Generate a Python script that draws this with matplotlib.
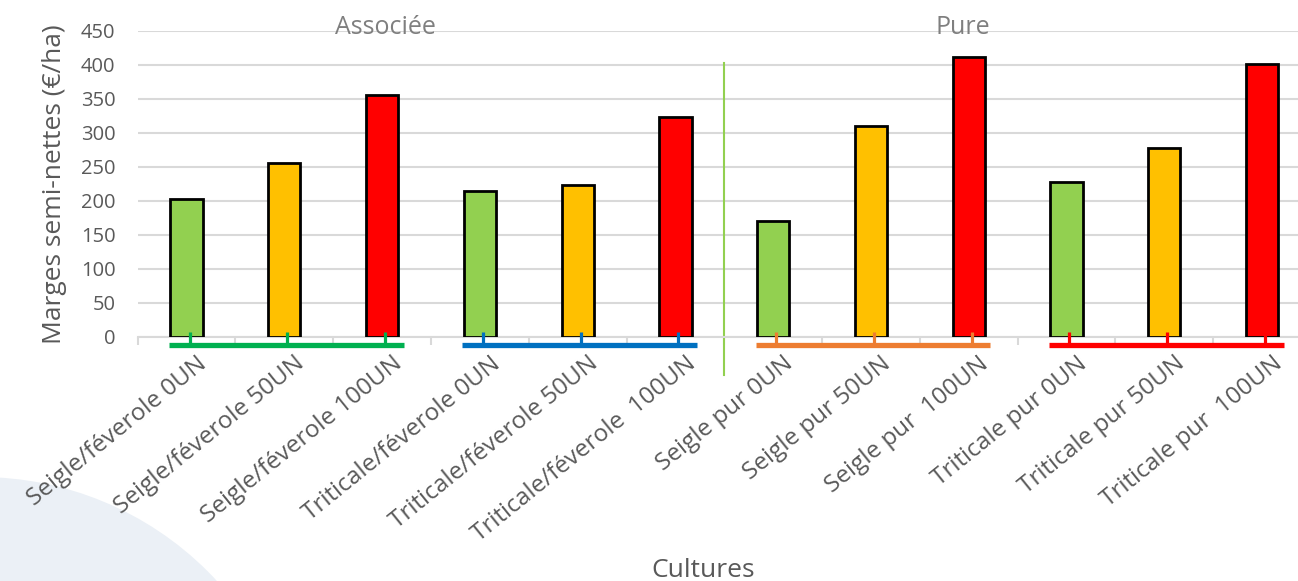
import matplotlib
matplotlib.use("Agg")
import matplotlib.pyplot as plt
from matplotlib.patches import Circle

plt.rcParams['font.family'] = ['Open Sans', 'DejaVu Sans']

categories = [
    "Seigle/féverole 0UN", "Seigle/féverole 50UN", "Seigle/féverole 100UN",
    "Triticale/féverole 0UN", "Triticale/féverole 50UN", "Triticale/féverole  100UN",
    "Seigle pur 0UN", "Seigle pur 50UN", "Seigle pur  100UN",
    "Triticale pur 0UN", "Triticale pur 50UN", "Triticale pur  100UN",
]
margins = [203, 255, 356, 215, 223, 324, 170, 310, 411, 227, 278, 401]
dose_colors = ["#92D050", "#FFC000", "#FF0000"]
group_colors = ["#00B050", "#0070C0", "#ED7D31", "#FF0000"]
section_labels = ["Associée", "Pure"]
yticks = [0, 50, 100, 150, 200, 250, 300, 350, 400, 450]

W, H = 1298, 581
fig = plt.figure(figsize=(W / 100, H / 100), dpi=100)

# soft background disc in the lower-left corner
bg = fig.add_axes([0, 0, 1, 1], zorder=-5)
bg.set_xlim(0, W)
bg.set_ylim(H, 0)
bg.axis("off")
bg.add_patch(Circle((-20, 799), 322, color="#EBF0F6", lw=0))

ax = fig.add_axes([137.7 / W, 244.3 / H, (1311 - 137.7) / W, (550 - 244.3) / H])
ax.patch.set_alpha(0)

x = list(range(len(categories)))
bar_colors = [dose_colors[i % 3] for i in x]
ax.bar(x, margins, width=0.33, color=bar_colors, edgecolor="black", linewidth=2, zorder=3)

ax.set_xlim(-0.5, len(categories) - 0.5)
ax.set_ylim(0, 450)
ax.set_yticks(yticks)
ax.yaxis.grid(True, color="#D9D9D9", lw=1.5, zorder=0)
ax.tick_params(axis="y", length=0, labelsize=14.5, labelcolor="#595959", pad=16)
for s in ["top", "right", "left"]:
    ax.spines[s].set_visible(False)
ax.spines["bottom"].set_color("#D9D9D9")
ax.spines["bottom"].set_linewidth(1.5)

# category boundaries as small ticks, labels placed manually
ax.set_xticks([i - 0.5 for i in range(len(categories) + 1)])
ax.set_xticklabels([])
ax.tick_params(axis="x", length=6, width=1.5, color="#D9D9D9")

for i, lab in enumerate(categories):
    ax.text(i + 0.1, -22, lab, rotation=39, rotation_mode="anchor",
            ha="right", va="top", fontsize=17.5, color="#595959")

# group brackets under each trio of bars
for g in range(4):
    c = group_colors[g]
    start, end = 3 * g, 3 * g + 2
    ax.plot([start - 0.18, end + 0.22], [-12, -12], color=c, lw=3.8,
            solid_capstyle="butt", clip_on=False, zorder=4)
    for k in range(start, end + 1):
        ax.plot([k + 0.03, k + 0.03], [-12, 7], color=c, lw=2.3,
                solid_capstyle="butt", clip_on=False, zorder=4)

# separator between associated and pure crops
ax.plot([5.5, 5.5], [403, -56], color="#92D050", lw=1.5, clip_on=False, zorder=2)

ax.text(2.03, 455, section_labels[0], ha="center", va="center", fontsize=18, color="#7F7F7F")
ax.text(7.94, 455, section_labels[1], ha="center", va="center", fontsize=18, color="#7F7F7F")

ax.set_ylabel("Marges semi-nettes (€/ha)", fontsize=19, color="#595959", labelpad=10)
fig.text(703 / W, 1 - 577 / H, "Cultures", ha="center", va="baseline", fontsize=19, color="#595959")

fig.savefig("out.png", dpi=100)
